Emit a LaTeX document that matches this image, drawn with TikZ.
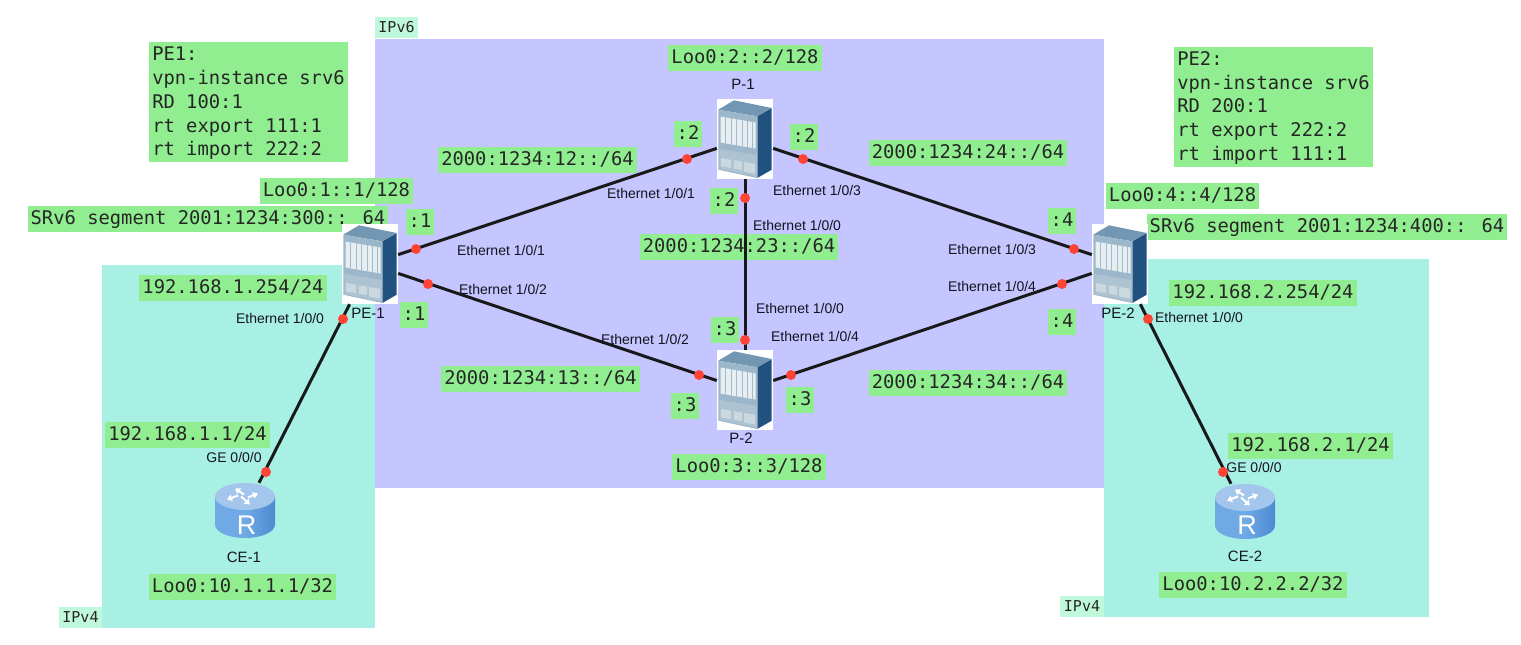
\documentclass[tikz,border=0pt]{standalone}
\usepackage{fontspec}
\setmainfont{Liberation Sans}
\newfontfamily\labmono{DejaVu Sans Mono}
\usetikzlibrary{arrows.meta,calc}
\definecolor{regsix}{HTML}{C5C5FF}
\definecolor{regfour}{HTML}{A8F0E4}
\definecolor{lbgreen}{HTML}{90EE90}
\definecolor{tagmint}{HTML}{C0F8DC}
\definecolor{dotred}{HTML}{FF4436}
\definecolor{swside}{HTML}{21527F}
\definecolor{swtop}{HTML}{7397B3}
\definecolor{swfront}{HTML}{9DB7CA}
\definecolor{swslot}{HTML}{E6EEF1}
\definecolor{swsep}{HTML}{A3BBCB}
\definecolor{swlow}{HTML}{AEC3D1}
\definecolor{swmod}{HTML}{CBD8E0}
\definecolor{rtlight}{HTML}{A5C6EC}
\definecolor{rtmid}{HTML}{6FAAE6}
\definecolor{rtdark}{HTML}{4C8AD2}
\definecolor{txtdark}{HTML}{14141F}
\tikzset{
  lb/.style={fill=lbgreen,inner xsep=3pt,inner ysep=0pt,minimum height=26pt,text=black!85,
    font=\labmono\fontsize{18.8}{23.7}\selectfont,text height=14pt,text depth=3pt},
  lbm/.style={fill=lbgreen,inner xsep=3pt,inner ysep=0pt,minimum height=120pt,text=black!85,align=left,
    font=\labmono\fontsize{18.8}{23.7}\selectfont},
  tagbox/.style={fill=tagmint,inner xsep=2pt,inner ysep=0pt,minimum height=21pt,text=black!85,
    font=\labmono\fontsize{15}{17}\selectfont},
  port/.style={text=txtdark,inner sep=0pt,font=\fontsize{14}{15}\selectfont},
  dev/.style={text=txtdark,inner sep=0pt,font=\fontsize{15}{17}\selectfont},
  swbox/.style={fill=white,minimum width=56pt,minimum height=80pt,inner sep=0pt},
  rtbox/.style={minimum width=60pt,minimum height=55pt,inner sep=0pt},
  link/.style={line width=3pt,black!90},
  dot/.style={circle,fill=dotred,minimum size=10pt,inner sep=0pt},
  rarrow/.style={line width=2pt,white,-{Triangle[length=5pt,width=6.5pt]}}
}
\newcommand{\swicon}[1]{%
  \begin{scope}[shift={(#1.center)}]
    \fill[swside] (12.3,-22.7) -- (26.7,-31) -- (26.7,30.7) -- (12.3,39) -- cycle;
    \fill[swtop] (-26.7,-29.3) -- (-11,-38.7) -- (26.7,-31) -- (12.3,-22.7) -- cycle;
    \fill[swfront] (-26.7,-29.3) -- (12.3,-22.7) -- (12.3,39) -- (-26.7,30.7) -- cycle;
    \fill[swslot] (-24.5,-22.5) -- (10.5,-16.5) -- (10.5,9.5) -- (-24.5,3.5) -- cycle;
    \foreach \sx in {-19.5,-14,-8.5,-3,2.5,7}{
      \pgfmathsetmacro{\ya}{-22.5+(\sx+24.5)*.17}
      \pgfmathsetmacro{\yb}{\ya+26}
      \draw[swsep,line width=1pt] (\sx,\ya) -- (\sx,\yb);
    }
    \fill[swlow] (-25.5,10) -- (11.5,16) -- (11.5,37.5) -- (-25.5,30) -- cycle;
    \fill[swmod] (-24,19) -- (-14,20.8) -- (-14,29) -- (-24,27.3) -- cycle;
    \fill[swmod] (-11,21.2) -- (-3,22.6) -- (-3,31) -- (-11,29.7) -- cycle;
    \fill[swmod] (-1,23) -- (10,24.8) -- (10,34.5) -- (-1,32.5) -- cycle;
  \end{scope}}
\newcommand{\rticon}[1]{%
  \begin{scope}[shift={(#1.center)}]
    \shade[left color=rtmid,right color=rtdark,middle color=rtmid]
      (-30,-14) -- (-30,14) arc[x radius=30,y radius=13.5,start angle=180,end angle=0]
      -- (30,-14) -- cycle;
    \fill[rtlight] (0,-14) ellipse[x radius=30,y radius=13.5];
    \draw[rarrow] (-1,-16) -- (-10,-22);
    \draw[rarrow] (3,-13) -- (13,-17);
    \draw[rarrow] (-4,-14) -- (5,-6);
    \draw[rarrow] (-7,-15) -- (-18,-11);
  \end{scope}}
\begin{document}
\begin{tikzpicture}[x=1pt,y=-1pt]
\useasboundingbox (0,0) rectangle (1521,645);
% regions
\fill[regfour] (102,265) rectangle (375,628);
\fill[regfour] (1104,259) rectangle (1429,617);
\fill[regsix] (375,39) rectangle (1104,488);
\node[tagbox,minimum width=43pt] (tsix) at (396.5,27.5) {IPv6};
\node[tagbox,minimum width=43pt] (tfourl) at (80.5,617) {IPv4};
\node[tagbox,minimum width=44pt] (tfourr) at (1082,606) {IPv4};
% green labels
\node[lbm] (b1) at (248.5,102) {\rule{0pt}{16.7pt}PE1:\\vpn-instance srv6\\RD 100:1\\rt export 111:1\\rt import 222:2};
\node[lbm] (b2) at (1273.5,106.5) {\rule{0pt}{16.7pt}PE2:\\vpn-instance srv6\\RD 200:1\\rt export 222:2\\rt import 111:1};
\node[lb] (l1) at (745,58) {Loo0:2::2/128};
\node[lb] (l2) at (336.5,190.5) {Loo0:1::1/128};
\node[lb] (l3) at (208,219) {SRv6 segment 2001:1234:300:: 64};
\node[lb] (l4) at (420,222) {:1};
\node[lb] (l5) at (414,315) {:1};
\node[lb] (l6) at (233,288) {192.168.1.254/24};
\node[lb] (l7) at (537.5,160) {2000:1234:12::/64};
\node[lb] (l8) at (688,134) {:2};
\node[lb] (l9) at (804,137) {:2};
\node[lb] (l10) at (724,201) {:2};
\node[lb] (l11) at (968,153) {2000:1234:24::/64};
\node[lb] (l12) at (739,247) {2000:1234:23::/64};
\node[lb] (l13) at (725,330) {:3};
\node[lb] (l14) at (685,406) {:3};
\node[lb] (l15) at (800,400) {:3};
\node[lb] (l16) at (540.5,379) {2000:1234:13::/64};
\node[lb] (l17) at (968,383) {2000:1234:34::/64};
\node[lb] (l18) at (749,467) {Loo0:3::3/128};
\node[lb] (l19) at (1182.5,196) {Loo0:4::4/128};
\node[lb] (l20) at (1327,226.5) {SRv6 segment 2001:1234:400:: 64};
\node[lb] (l21) at (1062,221) {:4};
\node[lb] (l22) at (1062,322) {:4};
\node[lb] (l23) at (1263,292.5) {192.168.2.254/24};
\node[lb] (l24) at (187.5,435) {192.168.1.1/24};
\node[lb] (l25) at (1310.5,446) {192.168.2.1/24};
\node[lb] (l26) at (242.5,587) {Loo0:10.1.1.1/32};
\node[lb] (l27) at (1253,585) {Loo0:10.2.2.2/32};
% devices
\node[swbox] (pe1) at (370,264) {};
\node[swbox] (p1) at (745,139) {};
\node[swbox] (p2) at (745,390) {};
\node[swbox] (pe2) at (1120,264) {};
\node[rtbox] (ce1) at (245,510.5) {};
\node[rtbox] (ce2) at (1245,511.5) {};
% links
\draw[link] (pe1) -- (p1);
\draw[link] (pe1) -- (p2);
\draw[link] (p1) -- (p2);
\draw[link] (p1) -- (pe2);
\draw[link] (p2) -- (pe2);
\draw[link] (pe1) -- (ce1);
\draw[link] (pe2) -- (ce2);
% icons
\swicon{pe1}\swicon{p1}\swicon{p2}\swicon{pe2}
\rticon{ce1}\rticon{ce2}
\node[text=white,inner sep=0pt,font=\fontsize{27}{27}\selectfont] (rl) at (246.5,525) {R};
\node[text=white,inner sep=0pt,font=\fontsize{27}{27}\selectfont] (rr) at (1247,525.5) {R};
% dots
\foreach \n/\px/\py in {d1/416/249,d2/687/159,d3/428/284,d4/699/375,d5/745/198,d6/745/340,
  d7/803/159,d8/1074/249,d9/791/375,d10/1062/284,d11/343/319,d12/266/472,d13/1148/319,d14/1223/472}
  \node[dot] (\n) at (\px,\py) {};
% device names
\node[dev] (npe1) at (368,313) {PE-1};
\node[dev] (np1) at (743,84) {P-1};
\node[dev] (np2) at (741,438) {P-2};
\node[dev] (npe2) at (1118,313) {PE-2};
\node[dev] (nce1) at (244,557) {CE-1};
\node[dev] (nce2) at (1245,556) {CE-2};
% port labels
\node[port] (e1) at (501,250) {Ethernet 1/0/1};
\node[port] (e2) at (503,289) {Ethernet 1/0/2};
\node[port] (e3) at (651,193) {Ethernet 1/0/1};
\node[port] (e4) at (645,339) {Ethernet 1/0/2};
\node[port] (e5) at (817,190) {Ethernet 1/0/3};
\node[port] (e6) at (797,225) {Ethernet 1/0/0};
\node[port] (e7) at (800,308) {Ethernet 1/0/0};
\node[port] (e8) at (815,336) {Ethernet 1/0/4};
\node[port] (e9) at (992,249) {Ethernet 1/0/3};
\node[port] (e10) at (992,286) {Ethernet 1/0/4};
\node[port] (e11) at (280,318) {Ethernet 1/0/0};
\node[port] (e12) at (1199,317) {Ethernet 1/0/0};
\node[port] (g1) at (234,457) {GE 0/0/0};
\node[port] (g2) at (1254,467) {GE 0/0/0};
\end{tikzpicture}
\end{document}
